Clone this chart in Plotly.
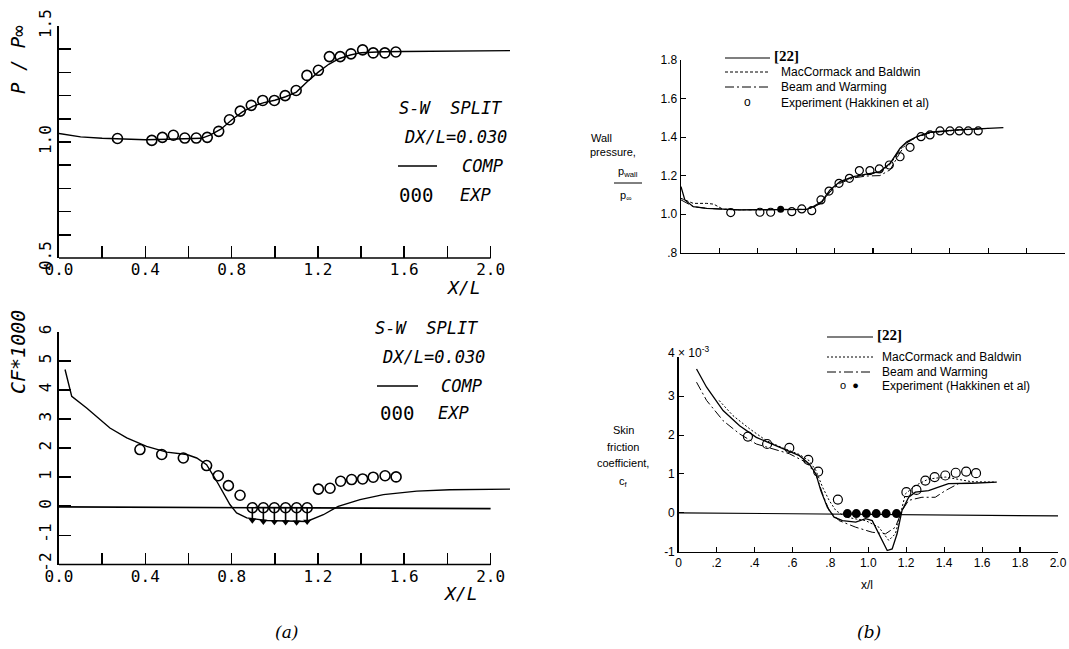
import plotly.graph_objects as go

W, H = 1069, 649

# ---------------- Panel (a), top: P/Pinf ----------------
a_p_comp_x = [0.0, 0.05, 0.1, 0.2, 0.3, 0.4, 0.5, 0.6, 0.66, 0.7, 0.75, 0.8, 0.85, 0.9, 0.95,
              1.0, 1.05, 1.1, 1.15, 1.2, 1.25, 1.3, 1.35, 1.4, 1.45, 1.5, 1.6, 1.8, 2.0, 2.09]
a_p_comp_y = [1.037, 1.028, 1.022, 1.016, 1.012, 1.010, 1.012, 1.013, 1.016, 1.03, 1.055, 1.095,
              1.13, 1.155, 1.17, 1.18, 1.195, 1.215, 1.26, 1.30, 1.335, 1.36, 1.375, 1.385, 1.388,
              1.389, 1.39, 1.392, 1.394, 1.394]
a_p_exp_x = [0.271, 0.43, 0.479, 0.53, 0.583, 0.636, 0.687, 0.74, 0.79, 0.84, 0.891, 0.944, 0.998,
             1.048, 1.099, 1.149, 1.202, 1.253, 1.303, 1.353, 1.407, 1.456, 1.51, 1.561]
a_p_exp_y = [1.015, 1.007, 1.02, 1.029, 1.017, 1.017, 1.02, 1.046, 1.096, 1.133, 1.158, 1.179, 1.179,
             1.2, 1.222, 1.287, 1.309, 1.368, 1.368, 1.38, 1.397, 1.384, 1.384, 1.388]

# ---------------- Panel (a), bottom: CF*1000 ----------------
a_cf_comp_x = [0.028, 0.059, 0.128, 0.236, 0.314, 0.406, 0.499, 0.592, 0.638, 0.684, 0.731, 0.792,
               0.823, 0.870, 0.962, 1.069, 1.148, 1.225, 1.294, 1.395, 1.503, 1.658, 1.81, 2.09]
a_cf_comp_y = [4.70, 3.78, 3.38, 2.69, 2.35, 2.06, 1.86, 1.78, 1.66, 1.43, 0.86, 0.06, -0.23, -0.40,
               -0.49, -0.52, -0.52, -0.29, 0.0, 0.23, 0.40, 0.52, 0.57, 0.59]
a_cf_exp_x = [0.375, 0.476, 0.576, 0.684, 0.738, 0.785, 0.839, 1.202, 1.256, 1.305, 1.356, 1.407,
              1.456, 1.511, 1.562]
a_cf_exp_y = [1.95, 1.78, 1.66, 1.40, 1.05, 0.71, 0.38, 0.59, 0.62, 0.86, 0.92, 0.94, 1.00, 1.05, 1.01]
a_cf_sep_x = [0.896, 0.947, 0.998, 1.050, 1.101, 1.150]
a_cf_sep_top = [-0.05, -0.05, -0.05, -0.05, -0.05, -0.05]
a_cf_sep_bot = [-0.48, -0.52, -0.53, -0.54, -0.55, -0.52]
a_cf_zero_x = [0.0, 2.0]
a_cf_zero_y = [-0.02, -0.08]

# ---------------- Panel (b), top: wall pressure ----------------
b_p_22_x = [0.0, 0.02, 0.064, 0.134, 0.307, 0.568, 0.655, 0.689, 0.733, 0.776, 0.828, 0.897, 0.967,
            1.036, 1.089, 1.141, 1.176, 1.228, 1.297, 1.436, 1.679]
b_p_22_y = [1.143, 1.074, 1.039, 1.03, 1.022, 1.025, 1.025, 1.039, 1.065, 1.126, 1.169, 1.195, 1.209,
            1.221, 1.264, 1.342, 1.376, 1.402, 1.425, 1.437, 1.449]
b_p_mb_x = [0.0, 0.064, 0.134, 0.17, 0.22, 0.307, 0.568, 0.655, 0.689, 0.733, 0.776, 0.828, 0.897,
            0.967, 1.036, 1.089, 1.141, 1.176, 1.228, 1.297, 1.436, 1.60]
b_p_mb_y = [1.082, 1.056, 1.056, 1.052, 1.025, 1.022, 1.025, 1.025, 1.036, 1.06, 1.12, 1.165, 1.192,
            1.205, 1.218, 1.258, 1.335, 1.372, 1.40, 1.423, 1.436, 1.445]
b_p_bw_x = [0.0, 0.064, 0.134, 0.307, 0.568, 0.655, 0.689, 0.733, 0.776, 0.828, 0.897, 0.967, 1.036,
            1.089, 1.141, 1.176, 1.228, 1.297, 1.436, 1.60]
b_p_bw_y = [1.074, 1.039, 1.03, 1.022, 1.025, 1.025, 1.036, 1.058, 1.115, 1.16, 1.188, 1.198, 1.20,
            1.23, 1.32, 1.37, 1.40, 1.422, 1.436, 1.445]
b_p_exp_x = [0.259, 0.411, 0.467, 0.577, 0.629, 0.681, 0.729, 0.771, 0.823, 0.877, 0.929, 0.984,
             1.033, 1.085, 1.141, 1.193, 1.25, 1.297, 1.349, 1.401, 1.449, 1.496, 1.548]
b_p_exp_y = [1.008, 1.010, 1.010, 1.013, 1.027, 1.018, 1.074, 1.12, 1.16, 1.186, 1.226, 1.226, 1.235,
             1.255, 1.298, 1.347, 1.402, 1.411, 1.432, 1.432, 1.432, 1.432, 1.432]
b_p_expf_x = [0.519]
b_p_expf_y = [1.025]

# ---------------- Panel (b), bottom: skin friction (x 10^-3) ----------------
b_cf_22_x = [0.095, 0.148, 0.235, 0.322, 0.41, 0.497, 0.584, 0.637, 0.689, 0.724, 0.75, 0.785, 0.82,
             0.864, 0.934, 0.986, 1.021, 1.056, 1.10, 1.126, 1.152, 1.178, 1.213, 1.248, 1.318, 1.37,
             1.423, 1.545, 1.676]
b_cf_22_y = [3.70, 3.23, 2.63, 2.24, 1.94, 1.76, 1.60, 1.47, 1.26, 1.00, 0.57, 0.14, -0.11, -0.20,
             -0.24, -0.15, -0.20, -0.54, -0.97, -0.93, -0.54, 0.06, 0.40, 0.53, 0.57, 0.66, 0.75,
             0.76, 0.79]
b_cf_mb_x = [0.214, 0.287, 0.375, 0.462, 0.549, 0.637, 0.689, 0.724, 0.759, 0.794, 0.829, 0.881,
             0.986, 1.056, 1.108, 1.143, 1.17, 1.196, 1.248, 1.318, 1.406, 1.545, 1.676]
b_cf_mb_y = [2.89, 2.50, 2.16, 1.86, 1.67, 1.50, 1.34, 1.09, 0.66, 0.32, 0.06, -0.11, -0.20, -0.37,
             -0.71, -0.54, -0.03, 0.49, 0.70, 0.87, 0.92, 0.80, 0.79]
b_cf_bw_x = [0.095, 0.148, 0.235, 0.322, 0.41, 0.497, 0.584, 0.672, 0.724, 0.759, 0.794, 0.846,
             0.934, 1.021, 1.091, 1.143, 1.178, 1.213, 1.283, 1.353, 1.406, 1.475, 1.55]
b_cf_bw_y = [3.36, 2.89, 2.37, 2.03, 1.77, 1.65, 1.52, 1.30, 1.00, 0.49, 0.06, -0.20, -0.37, -0.50,
             -0.54, -0.37, 0.06, 0.32, 0.40, 0.40, 0.57, 0.75, 0.77]
b_cf_exp_x = [0.366, 0.467, 0.584, 0.684, 0.736, 0.84, 1.201, 1.254, 1.301, 1.35, 1.406, 1.461,
              1.516, 1.568]
b_cf_exp_y = [1.96, 1.77, 1.67, 1.36, 1.06, 0.34, 0.53, 0.59, 0.83, 0.92, 0.96, 1.03, 1.06, 1.02]
b_cf_expf_x = [0.89, 0.937, 0.99, 1.042, 1.094, 1.149]
b_cf_expf_y = [-0.02, -0.02, -0.02, -0.02, -0.02, -0.02]
b_cf_zero_x = [0.0, 2.0]
b_cf_zero_y = [0.0, -0.08]

# tick values and labels
a_x_ticks = [0.0, 0.4, 0.8, 1.2, 1.6, 2.0]
a_x_text = ["0.0", "0.4", "0.8", "1.2", "1.6", "2.0"]
a_x_minor = [0.2, 0.6, 1.0, 1.4, 1.8]
a_p_y_ticks = [0.5, 1.0, 1.5]
a_p_y_text = ["0.5", "1.0", "1.5"]
a_p_y_minor = [0.6, 0.7, 0.8, 0.9, 1.1, 1.2, 1.3, 1.4]
a_cf_y_ticks = [-2, -1, 0, 1, 2, 3, 4, 5, 6]
a_cf_y_text = ["-2", "-1", "0", "1", "2", "3", "4", "5", "6"]
b_x_ticks = [0.0, 0.2, 0.4, 0.6, 0.8, 1.0, 1.2, 1.4, 1.6, 1.8, 2.0]
b_x_text = ["0", ".2", ".4", ".6", ".8", "1.0", "1.2", "1.4", "1.6", "1.8", "2.0"]
b_p_y_ticks = [0.8, 1.0, 1.2, 1.4, 1.6, 1.8]
b_p_y_text = [".8", "1.0", "1.2", "1.4", "1.6", "1.8"]
b_cf_y_ticks = [-1, 0, 1, 2, 3]
b_cf_y_text = ["-1", "0", "1", "2", "3"]
b_cf_y_minor = [4]


def px(x):
    return x / W


def py(y):
    return 1 - y / H


MONO = "DejaVu Sans Mono"
NARROW = "Liberation Sans Narrow, Liberation Sans, Arial"
BLK = "black"

fig = go.Figure()

# ---- (a) top
fig.add_trace(go.Scatter(x=a_p_comp_x, y=a_p_comp_y, mode="lines", line=dict(color=BLK, width=1.4),
                         xaxis="x", yaxis="y", showlegend=False))
fig.add_trace(go.Scatter(x=a_p_exp_x, y=a_p_exp_y, mode="markers",
                         marker=dict(symbol="circle-open", size=10, color=BLK, line=dict(width=1.6)),
                         xaxis="x", yaxis="y", showlegend=False))
# ---- (a) bottom
fig.add_trace(go.Scatter(x=a_cf_zero_x, y=a_cf_zero_y, mode="lines", line=dict(color=BLK, width=1.6),
                         xaxis="x2", yaxis="y2", showlegend=False))
fig.add_trace(go.Scatter(x=a_cf_comp_x, y=a_cf_comp_y, mode="lines", line=dict(color=BLK, width=1.4),
                         xaxis="x2", yaxis="y2", showlegend=False))
fig.add_trace(go.Scatter(x=a_cf_exp_x, y=a_cf_exp_y, mode="markers",
                         marker=dict(symbol="circle-open", size=10, color=BLK, line=dict(width=1.6)),
                         xaxis="x2", yaxis="y2", showlegend=False))
sep_minus = [t - b for t, b in zip(a_cf_sep_top, a_cf_sep_bot)]
fig.add_trace(go.Scatter(x=a_cf_sep_x, y=a_cf_sep_top, mode="markers",
                         marker=dict(symbol="circle-open", size=10, color=BLK, line=dict(width=1.6)),
                         error_y=dict(type="data", symmetric=False, array=[0] * len(sep_minus),
                                      arrayminus=sep_minus, color=BLK, thickness=1.6, width=0),
                         xaxis="x2", yaxis="y2", showlegend=False))
fig.add_trace(go.Scatter(x=a_cf_sep_x, y=a_cf_sep_bot, mode="markers",
                         marker=dict(symbol="triangle-down", size=7, color=BLK),
                         xaxis="x2", yaxis="y2", showlegend=False))

# ---- (b) top
fig.add_trace(go.Scatter(x=b_p_22_x, y=b_p_22_y, mode="lines", line=dict(color=BLK, width=1.3),
                         xaxis="x3", yaxis="y3", showlegend=False))
fig.add_trace(go.Scatter(x=b_p_mb_x, y=b_p_mb_y, mode="lines",
                         line=dict(color=BLK, width=1.0, dash="3px,2px"),
                         xaxis="x3", yaxis="y3", showlegend=False))
fig.add_trace(go.Scatter(x=b_p_bw_x, y=b_p_bw_y, mode="lines",
                         line=dict(color=BLK, width=1.0, dash="9px,3px,2px,3px"),
                         xaxis="x3", yaxis="y3", showlegend=False))
fig.add_trace(go.Scatter(x=b_p_exp_x, y=b_p_exp_y, mode="markers",
                         marker=dict(symbol="circle-open", size=8, color=BLK, line=dict(width=1.2)),
                         xaxis="x3", yaxis="y3", showlegend=False))
fig.add_trace(go.Scatter(x=b_p_expf_x, y=b_p_expf_y, mode="markers",
                         marker=dict(symbol="circle", size=7, color=BLK),
                         xaxis="x3", yaxis="y3", showlegend=False))

# ---- (b) bottom
fig.add_trace(go.Scatter(x=b_cf_zero_x, y=b_cf_zero_y, mode="lines", line=dict(color=BLK, width=1.2),
                         xaxis="x4", yaxis="y4", showlegend=False))
fig.add_trace(go.Scatter(x=b_cf_22_x, y=b_cf_22_y, mode="lines", line=dict(color=BLK, width=1.3),
                         xaxis="x4", yaxis="y4", showlegend=False))
fig.add_trace(go.Scatter(x=b_cf_mb_x, y=b_cf_mb_y, mode="lines",
                         line=dict(color=BLK, width=1.0, dash="2px,2px"),
                         xaxis="x4", yaxis="y4", showlegend=False))
fig.add_trace(go.Scatter(x=b_cf_bw_x, y=b_cf_bw_y, mode="lines",
                         line=dict(color=BLK, width=1.0, dash="9px,3px,2px,3px"),
                         xaxis="x4", yaxis="y4", showlegend=False))
fig.add_trace(go.Scatter(x=b_cf_exp_x, y=b_cf_exp_y, mode="markers",
                         marker=dict(symbol="circle-open", size=9, color=BLK, line=dict(width=1.2)),
                         xaxis="x4", yaxis="y4", showlegend=False))
fig.add_trace(go.Scatter(x=b_cf_expf_x, y=b_cf_expf_y, mode="markers",
                         marker=dict(symbol="circle", size=9, color=BLK),
                         xaxis="x4", yaxis="y4", showlegend=False))

# ---------------- axes ----------------
a_dom_x = [px(59), px(59 + 215.8 * 2.1)]
left_common_x = dict(range=[0, 2.1], showline=False, showgrid=False, zeroline=False,
                     automargin=False,
                     tickmode="array", tickvals=a_x_ticks, ticktext=a_x_text, ticks="inside",
                     ticklen=12, tickwidth=1.6, tickcolor=BLK,
                     minor=dict(tickmode="array", tickvals=a_x_minor, ticks="inside", ticklen=12,
                                tickwidth=1.6, tickcolor=BLK, showgrid=False),
                     tickfont=dict(family=MONO, size=16, color=BLK), domain=a_dom_x)
left_common_y = dict(showline=True, linecolor=BLK, linewidth=1.6, showgrid=False, zeroline=False,
                     automargin=False,
                     tickmode="array", ticks="inside", ticklen=12, tickwidth=1.6, tickcolor=BLK,
                     tickangle=-90, tickfont=dict(family=MONO, size=16, color=BLK))

right_font = dict(family=NARROW, size=12, color=BLK)
right_common = dict(showline=True, linecolor=BLK, linewidth=1.3, showgrid=False, zeroline=False,
                    automargin=False, tickmode="array", ticks="inside", ticklen=5, tickwidth=1.1,
                    tickcolor=BLK, tickfont=right_font)

fig.update_layout(
    width=W, height=H, autosize=False,
    margin=dict(l=0, r=0, t=0, b=0),
    paper_bgcolor="white", plot_bgcolor="white",
    xaxis=dict(**left_common_x, anchor="y"),
    yaxis=dict(**left_common_y, anchor="x", range=[0.5, 1.5], tickvals=a_p_y_ticks,
               ticktext=a_p_y_text, domain=[py(258), py(26)],
               minor=dict(tickmode="array", tickvals=a_p_y_minor, ticks="inside", ticklen=12,
                          tickwidth=1.6, tickcolor=BLK, showgrid=False)),
    xaxis2=dict(**left_common_x, anchor="y2"),
    yaxis2=dict(**left_common_y, anchor="x2", range=[-2, 6], tickvals=a_cf_y_ticks,
                ticktext=a_cf_y_text, domain=[py(564.5), py(331.7)]),
    xaxis3=dict(**right_common, range=[0, 2.0], domain=[px(681), px(1065)], anchor="y3",
                tickvals=b_x_ticks, showticklabels=False),
    yaxis3=dict(**right_common, range=[0.8, 1.8], domain=[py(252.7), py(60)], anchor="x3",
                tickvals=b_p_y_ticks, ticktext=b_p_y_text),
    xaxis4=dict(**right_common, range=[0, 2.0], domain=[px(678.5), px(1058)], anchor="y4",
                tickvals=b_x_ticks, ticktext=b_x_text),
    yaxis4=dict(**right_common, range=[-1, 4], domain=[py(551.7), py(357.3)], anchor="x4",
                tickvals=b_cf_y_ticks, ticktext=b_cf_y_text,
                minor=dict(tickmode="array", tickvals=b_cf_y_minor, ticks="inside", ticklen=5,
                           tickwidth=1.1, tickcolor=BLK, showgrid=False)),
)

shapes = [
    # left x-axis baselines ending at 2.0
    dict(type="line", xref="x", yref="y domain", x0=0, x1=2.0, y0=0, y1=0,
         line=dict(color=BLK, width=1.6)),
    dict(type="line", xref="x2", yref="y2 domain", x0=0, x1=2.0, y0=0, y1=0,
         line=dict(color=BLK, width=1.6)),
    # left legend line samples
    dict(type="line", xref="paper", yref="paper", x0=px(398), x1=px(437), y0=py(166), y1=py(166),
         line=dict(color=BLK, width=1.4)),
    dict(type="line", xref="paper", yref="paper", x0=px(377), x1=px(418), y0=py(386), y1=py(386),
         line=dict(color=BLK, width=1.6)),
    # right legend line samples (top)
    dict(type="line", xref="paper", yref="paper", x0=px(725), x1=px(770), y0=py(58), y1=py(58),
         line=dict(color=BLK, width=1.2)),
    dict(type="line", xref="paper", yref="paper", x0=px(725), x1=px(770), y0=py(72), y1=py(72),
         line=dict(color=BLK, width=1.0, dash="3px,2px")),
    dict(type="line", xref="paper", yref="paper", x0=px(725), x1=px(770), y0=py(87), y1=py(87),
         line=dict(color=BLK, width=1.0, dash="9px,3px,2px,3px")),
    # right legend line samples (bottom)
    dict(type="line", xref="paper", yref="paper", x0=px(827), x1=px(873), y0=py(337), y1=py(337),
         line=dict(color=BLK, width=1.2)),
    dict(type="line", xref="paper", yref="paper", x0=px(827), x1=px(873), y0=py(357), y1=py(357),
         line=dict(color=BLK, width=1.0, dash="2px,2px")),
    dict(type="line", xref="paper", yref="paper", x0=px(827), x1=px(873), y0=py(372), y1=py(372),
         line=dict(color=BLK, width=1.0, dash="9px,3px,2px,3px")),
    # fraction bar of wall pressure label
    dict(type="line", xref="paper", yref="paper", x0=px(614), x1=px(642), y0=py(183), y1=py(183),
         line=dict(color=BLK, width=1.0)),
]
fig.update_layout(shapes=shapes)


def ann(text, x, y, size, family=MONO, angle=0, xanchor="center"):
    return dict(text=text, x=px(x), y=py(y), xref="paper", yref="paper", showarrow=False,
                xanchor=xanchor, yanchor="middle", textangle=angle,
                font=dict(family=family, size=size, color=BLK))


annotations = [
    # panel (a) top
    ann("<i>P / P∞</i>", 18, 60, 19, angle=-90),
    ann("<i>S-W  SPLIT</i>", 451, 108, 17),
    ann("<i>DX/L=0.030</i>", 455, 137, 17),
    ann("<i>COMP</i>", 482, 166, 17),
    ann("000", 416, 195, 19),
    ann("<i>EXP</i>", 475, 195, 17),
    ann("<i>X/L</i>", 463, 287, 18),
    # panel (a) bottom
    ann("<i>CF*1000</i>", 18, 352, 20, angle=-90),
    ann("<i>S-W  SPLIT</i>", 427, 328, 17),
    ann("<i>DX/L=0.030</i>", 433, 357, 17),
    ann("<i>COMP</i>", 461, 386, 17),
    ann("000", 397, 413, 19),
    ann("<i>EXP</i>", 453, 413, 17),
    ann("<i>X/L</i>", 460, 593, 18),
    # panel (b) top
    ann("<b>[22]</b>", 772, 56, 15, family="Liberation Serif", xanchor="left"),
    ann("MacCormack and Baldwin", 779, 72, 12, family=NARROW, xanchor="left"),
    ann("Beam and Warming", 779, 87, 12, family=NARROW, xanchor="left"),
    ann("o", 747, 102, 12, family=NARROW),
    ann("Experiment (Hakkinen et al)", 779, 103, 12, family=NARROW, xanchor="left"),
    ann("Wall", 601, 138, 11, family=NARROW),
    ann("pressure,", 613, 152, 11, family=NARROW),
    ann("p<sub>wall</sub>", 628, 172, 11, family=NARROW),
    ann("p<sub>∞</sub>", 626, 196, 11, family=NARROW),
    # panel (b) bottom
    ann("<b>[22]</b>", 875, 335, 15, family="Liberation Serif", xanchor="left"),
    ann("MacCormack and Baldwin", 880, 357, 12, family=NARROW, xanchor="left"),
    ann("Beam and Warming", 880, 372, 12, family=NARROW, xanchor="left"),
    ann("o  ●", 849, 385, 11, family=NARROW),
    ann("Experiment (Hakkinen et al)", 880, 386, 12, family=NARROW, xanchor="left"),
    ann("4 × 10<sup>-3</sup>", 688, 352, 12, family=NARROW),
    ann("Skin", 623, 430, 11, family=NARROW),
    ann("friction", 623, 447, 11, family=NARROW),
    ann("coefficient,", 623, 463, 11, family=NARROW),
    ann("c<sub>f</sub>", 623, 482, 11, family=NARROW),
    ann("x/l", 867, 585, 12, family=NARROW),
    # captions
    ann("<i>(a)</i>", 286, 632, 17, family="DejaVu Serif"),
    ann("<i>(b)</i>", 869, 632, 17, family="DejaVu Serif"),
]
fig.update_layout(annotations=annotations)

fig.write_html("out.html",
               config={"displayModeBar": False, "staticPlot": True},
               post_script="document.body.style.margin='0';document.body.style.overflow='hidden';")
